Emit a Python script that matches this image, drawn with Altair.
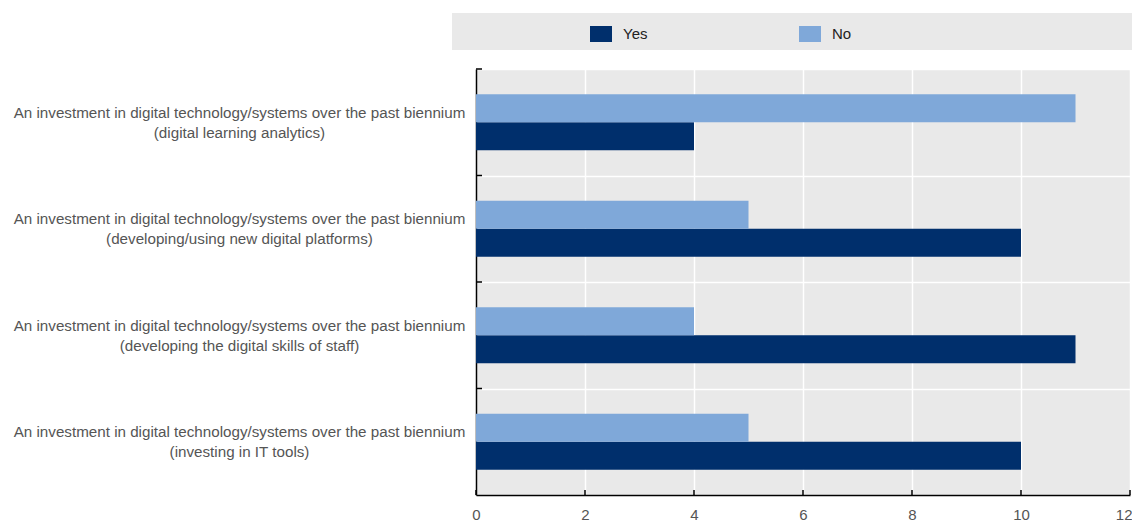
import altair as alt
import pandas as pd

categories = [
    "An investment in digital technology/systems over the past biennium (digital learning analytics)",
    "An investment in digital technology/systems over the past biennium (developing/using new digital platforms)",
    "An investment in digital technology/systems over the past biennium (developing the digital skills of staff)",
    "An investment in digital technology/systems over the past biennium (investing in IT tools)",
]
yes_values = [4, 10, 11, 10]
no_values = [11, 5, 4, 5]
series = ["Yes", "No"]
colors = ["#002F6C", "#7FA8D9"]
x_ticks = [0, 2, 4, 6, 8, 10, 12]

rows = []
for c, y, n in zip(categories, yes_values, no_values):
    rows.append({"category": c, "series": "Yes", "value": y})
    rows.append({"category": c, "series": "No", "value": n})
df = pd.DataFrame(rows)

W, H = 654, 426
FONT = "Liberation Sans"

label_expr = ("[slice(datum.label, 0, indexof(datum.label, ' (')), "
              "slice(datum.label, indexof(datum.label, ' (') + 1)]")

legend_box = alt.Chart(pd.DataFrame({"a": [0]})).mark_rect(
    color="#E9E9E9", clip=False
).encode(
    x=alt.value(-24), x2=alt.value(656), y=alt.value(-56), y2=alt.value(-19)
)

bars = alt.Chart(df).mark_bar().encode(
    x=alt.X("value:Q",
            scale=alt.Scale(domain=[0, 12], nice=False),
            axis=alt.Axis(values=x_ticks, format="d", title=None, grid=True,
                          gridColor="white", gridWidth=1.5,
                          domainColor="black", domainWidth=1.5,
                          ticks=False, tickSize=0, labelPadding=12,
                          labelFlush=False,
                          labelAlign={"condition": {"test": "datum.value == 12", "value": "right"},
                                      "value": "center"},
                          labelOffset={"condition": {"test": "datum.value == 12", "value": 2},
                                       "value": 0},
                          labelColor="#555555", labelFontSize=15, labelFont=FONT)),
    y=alt.Y("category:N", sort=categories,
            scale=alt.Scale(paddingInner=0, paddingOuter=0),
            axis=alt.Axis(title=None, grid=True, gridColor="white", gridWidth=1.5,
                          tickBand="extent", ticks=False, tickSize=0,
                          domainColor="black", domainWidth=1.5,
                          labelAlign="center", labelBaseline="middle",
                          labelPadding=237, labelLimit=0, labelExpr=label_expr,
                          labelOffset=-10,
                          labelLineHeight=20, labelColor="#555555",
                          labelFontSize=15.2, labelFont=FONT)),
    yOffset=alt.YOffset("series:N", sort=["No", "Yes"],
                        scale=alt.Scale(paddingInner=0, paddingOuter=0.9)),
    color=alt.Color("series:N",
                    scale=alt.Scale(domain=series, range=colors),
                    legend=alt.Legend(title=None, orient="none", direction="horizontal",
                                      legendX=114, legendY=-46,
                                      symbolType="M-1,-0.727h2v1.454h-2z",
                                      symbolSize=484, symbolStrokeWidth=0,
                                      symbolOpacity=1,
                                      labelFontSize=15, labelFont=FONT,
                                      labelColor="#222222", labelOffset=11,
                                      columnPadding=151, padding=0)),
)

xtick_rules = alt.Chart(pd.DataFrame({"t": x_ticks})).mark_rule(
    color="black", strokeWidth=1.5
).encode(
    x=alt.X("t:Q"), y=alt.value(H - 5), y2=alt.value(H)
)

ytick_rules = alt.Chart(pd.DataFrame({"category": categories})).mark_rule(
    color="black", strokeWidth=1.5
).encode(
    y=alt.Y("category:N", sort=categories, bandPosition=0),
    x=alt.value(0), x2=alt.value(6)
)

chart = alt.layer(legend_box, bars, xtick_rules, ytick_rules).properties(
    width=W, height=H,
    autosize=alt.AutoSizeParams(type="none"),
    padding={"left": 468, "top": 61, "right": 2, "bottom": 40},
).configure(font=FONT).configure_view(
    fill="#E9E9E9", stroke=None
)

chart.save("out.html", embed_options={"renderer": "svg", "actions": False})
